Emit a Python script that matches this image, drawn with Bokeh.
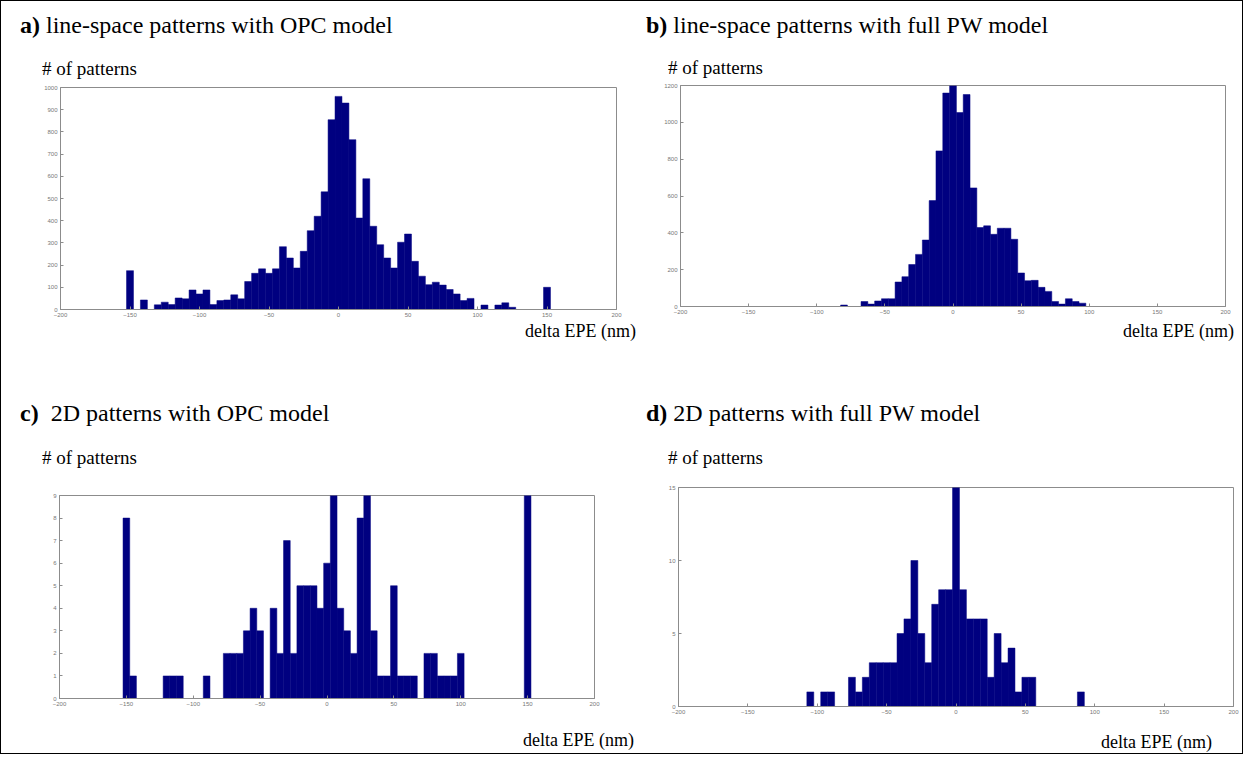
from bokeh.plotting import figure
from bokeh.models import Range1d, FixedTicker, Div
from bokeh.layouts import column, row
from bokeh.embed import file_html
from bokeh.resources import INLINE

BIN_W = 5
X_TICKS = [-200, -150, -100, -50, 0, 50, 100, 150, 200]

# a) line-space patterns with OPC model
centers_a = [-150, -140, -130, -125, -120, -115, -110, -105, -100, -95, -90, -85, -80, -75, -70,
             -65, -60, -55, -50, -45, -40, -35, -30, -25, -20, -15, -10, -5, 0, 5, 10, 15, 20,
             25, 30, 35, 40, 45, 50, 55, 60, 65, 70, 75, 80, 85, 90, 95, 105, 115, 120, 125, 150]
counts_a = [175, 43, 21, 33, 22, 52, 48, 88, 70, 88, 22, 40, 43, 66, 48,
            126, 163, 183, 163, 183, 283, 232, 187, 262, 355, 420, 530, 855, 960, 930, 765, 412, 589,
            375, 292, 232, 187, 303, 340, 217, 150, 112, 123, 110, 90, 70, 40, 50, 20, 20, 30, 10, 100]
yticks_a = [0, 100, 200, 300, 400, 500, 600, 700, 800, 900, 1000]

# b) line-space patterns with full PW model
centers_b = [-80, -65, -60, -55, -50, -45, -40, -35, -30, -25, -20, -15, -10, -5, 0, 5, 10, 15,
             20, 25, 30, 35, 40, 45, 50, 55, 60, 65, 70, 75, 80, 85, 90, 95]
counts_b = [8, 27, 13, 30, 42, 42, 133, 162, 228, 283, 361, 575, 845, 1159, 1199, 1053, 1151, 644,
            429, 438, 392, 425, 425, 365, 182, 140, 142, 104, 82, 27, 13, 42, 27, 18]
yticks_b = [0, 200, 400, 600, 800, 1000, 1200]

# c) 2D patterns with OPC model
centers_c = [-150, -145, -120, -115, -110, -90, -75, -70, -65, -60, -55, -50, -40, -35, -30, -25,
             -20, -15, -10, -5, 0, 5, 10, 15, 20, 25, 30, 35, 40, 45, 50, 55, 60, 65, 75, 80, 85,
             90, 95, 100, 150]
counts_c = [8, 1, 1, 1, 1, 1, 2, 2, 2, 3, 4, 3, 4, 2, 7, 2,
            5, 5, 5, 4, 6, 9, 4, 3, 2, 8, 9, 3, 1, 1, 5, 1, 1, 1, 2, 2, 1,
            1, 1, 2, 9]
yticks_c = [0, 1, 2, 3, 4, 5, 6, 7, 8, 9]

# d) 2D patterns with full PW model
centers_d = [-105, -95, -90, -75, -70, -65, -60, -55, -50, -45, -40, -35, -30, -25, -20, -15, -10,
             -5, 0, 5, 10, 15, 20, 25, 30, 35, 40, 45, 50, 55, 90]
counts_d = [1, 1, 1, 2, 1, 2, 3, 3, 3, 3, 5, 6, 10, 5, 3, 7, 8,
            8, 15, 8, 6, 6, 6, 2, 5, 3, 4, 1, 2, 2, 1]
yticks_d = [0, 5, 10, 15]

BAR_COLOR = "#000080"
AXIS_COLOR = "#8c8c8c"
TICK_LABEL_COLOR = "#777777"
SERIF = "'Liberation Serif', 'Times New Roman', serif"
TITLE_SIZE = 24
YLAB_SIZE = 19
XLAB_SIZE = 18


def span(left, center_y, size, html):
    top = center_y - size / 2.0
    return (f'<span style="position:absolute;left:{left}px;top:{top}px;line-height:1;'
            f'white-space:nowrap;font-family:{SERIF};font-size:{size}px;color:black;">{html}</span>')


def box(width, height, inner):
    return (f'<div style="position:relative;width:{width}px;height:{height}px;margin:0;padding:0;">'
            f'{inner}</div>')


def make_quadrant(W, head_h, frame_h, foot_h, fl, fr, centers, counts, yticks,
                  title_html, title_pos, ylab_pos, xlab_pos):
    top_b, bot_b = 5, 12
    header = Div(text=box(W, head_h,
                          span(title_pos[0], title_pos[1], TITLE_SIZE, title_html) +
                          span(ylab_pos[0], ylab_pos[1], YLAB_SIZE, "# of patterns")),
                 width=W, height=head_h, margin=0)

    p = figure(width=W, height=top_b + frame_h + bot_b,
               x_range=Range1d(-200, 200), y_range=Range1d(0, yticks[-1]),
               output_backend="svg", toolbar_location=None,
               min_border_left=fl, min_border_right=fr,
               min_border_top=top_b, min_border_bottom=bot_b)
    p.grid.visible = False
    p.outline_line_color = AXIS_COLOR
    p.vbar(x=centers, top=counts, width=BIN_W, bottom=0,
           fill_color=BAR_COLOR, line_color=BAR_COLOR, line_width=0.5)
    p.xaxis.ticker = FixedTicker(ticks=X_TICKS)
    p.yaxis.ticker = FixedTicker(ticks=yticks)
    for ax in list(p.xaxis) + list(p.yaxis):
        ax.axis_line_color = AXIS_COLOR
        ax.major_tick_line_color = AXIS_COLOR
        ax.minor_tick_line_color = None
        ax.major_tick_in = 3
        ax.major_tick_out = 0
        ax.major_label_text_font_size = "6px"
        ax.major_label_text_color = TICK_LABEL_COLOR
        ax.major_label_standoff = 3

    footer = Div(text=box(W, foot_h, span(xlab_pos[0], xlab_pos[1], XLAB_SIZE, "delta EPE (nm)")),
                 width=W, height=foot_h, margin=0)
    return column(header, p, footer, spacing=0)


qa = make_quadrant(632, 81, 222, 72, 59, 17, centers_a, counts_a, yticks_a,
                   "<b>a)</b> line-space patterns with OPC model", (19, 24), (41, 67), (524, 10))
qb = make_quadrant(609, 79, 221, 75, 47, 17, centers_b, counts_b, yticks_b,
                   "<b>b)</b> line-space patterns with full PW model", (13, 24), (35, 66), (490, 13))
qc = make_quadrant(632, 97, 203, 43, 58, 39, centers_c, counts_c, yticks_c,
                   "<b>c)</b>&nbsp; 2D patterns with OPC model", (19, 20), (41, 64), (522, 30))
qd = make_quadrant(609, 89, 219, 35, 45, 9, centers_d, counts_d, yticks_d,
                   "<b>d)</b> 2D patterns with full PW model", (13, 20), (35, 64), (468, 24))

layout = column(row(qa, qb, spacing=0), row(qc, qd, spacing=0), spacing=0,
                styles={"border": "1px solid black"})

open("out.html", "w").write(file_html(layout, INLINE))
